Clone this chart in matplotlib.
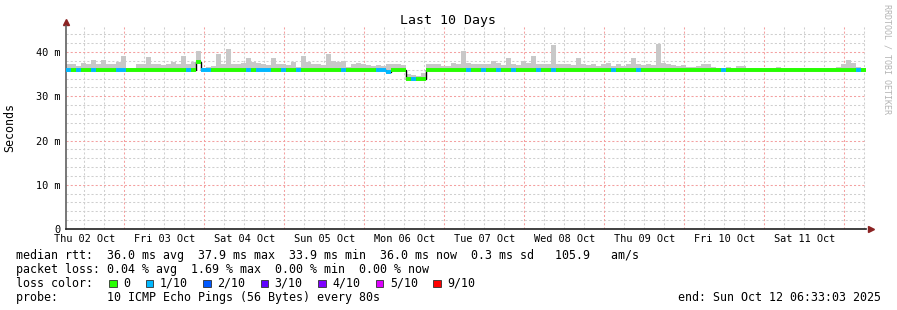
import numpy as np
import matplotlib
matplotlib.use('Agg')
import matplotlib.pyplot as plt
import matplotlib.dates as mdates
from matplotlib.ticker import FixedLocator, MultipleLocator
from matplotlib.patches import Rectangle

plt.rcParams['font.family'] = 'DejaVu Sans Mono'

# time range of the graph, 160 bins of 90 minutes
start = np.datetime64('2025-10-02T06:33:03')
end = np.datetime64('2025-10-12T06:33:03')
n_bins = 160

# median rtt per bin (ms)
median = [
    36.0, 36.0, 36.0, 36.0, 36.0, 36.0, 36.0, 36.0, 36.0, 36.0, 36.0, 36.0, 36.0, 36.0, 36.0, 36.0, 36.0, 36.0, 36.0, 36.0,
    36.0, 36.0, 36.0, 36.0, 36.0, 36.0, 37.7, 36.0, 36.0, 36.0, 36.0, 36.0, 36.0, 36.0, 36.0, 36.0, 36.0, 36.0, 36.0, 36.0,
    36.0, 36.0, 36.0, 36.0, 36.0, 36.0, 36.0, 36.0, 36.0, 36.0, 36.0, 36.0, 36.0, 36.0, 36.0, 36.0, 36.0, 36.0, 36.0, 36.0,
    36.0, 36.0, 36.0, 36.0, 35.5, 36.0, 36.0, 36.0, 34.0, 34.0, 34.0, 34.0, 36.0, 36.0, 36.0, 36.0, 36.0, 36.0, 36.0, 36.0,
    36.0, 36.0, 36.0, 36.0, 36.0, 36.0, 36.0, 36.0, 36.0, 36.0, 36.0, 36.0, 36.0, 36.0, 36.0, 36.0, 36.0, 36.0, 36.0, 36.0,
    36.0, 36.0, 36.0, 36.0, 36.0, 36.0, 36.0, 36.0, 36.0, 36.0, 36.0, 36.0, 36.0, 36.0, 36.0, 36.0, 36.0, 36.0, 36.0, 36.0,
    36.0, 36.0, 36.0, 36.0, 36.0, 36.0, 36.0, 36.0, 36.0, 36.0, 36.0, 36.0, 36.0, 36.0, 36.0, 36.0, 36.0, 36.0, 36.0, 36.0,
    36.0, 36.0, 36.0, 36.0, 36.0, 36.0, 36.0, 36.0, 36.0, 36.0, 36.0, 36.0, 36.0, 36.0, 36.0, 36.0, 36.0, 36.0, 36.0, 36.0,
]

# top of the smoke (highest ping) per bin (ms)
smoke_top = [
    37.4, 37.2, 36.8, 37.6, 37.4, 38.2, 37.2, 38.2, 37.3, 37.4, 37.8, 39.1, 36.5, 36.4, 37.2, 37.3, 38.9, 37.3, 37.2, 37.0,
    37.3, 37.8, 37.2, 39.1, 37.4, 37.8, 40.2, 36.4, 36.6, 36.8, 39.5, 37.3, 40.7, 37.2, 37.3, 37.5, 38.6, 37.8, 37.6, 37.2,
    37.0, 38.6, 37.3, 37.2, 37.0, 37.8, 36.6, 39.1, 37.8, 37.4, 37.2, 37.0, 39.5, 37.9, 37.8, 37.9, 36.6, 37.4, 37.5, 37.2,
    37.0, 36.8, 37.0, 36.8, 37.3, 37.3, 37.2, 37.0, 35.0, 34.8, 34.7, 35.2, 37.2, 37.3, 37.2, 36.8, 36.8, 37.5, 37.4, 40.2,
    37.5, 37.3, 37.4, 37.3, 37.4, 37.9, 37.5, 37.0, 38.6, 37.3, 37.0, 37.9, 37.5, 39.1, 37.4, 37.2, 37.3, 41.7, 37.2, 37.3,
    37.2, 37.0, 38.6, 37.3, 37.0, 37.2, 36.8, 37.4, 37.6, 36.9, 37.2, 36.8, 37.3, 38.6, 37.2, 37.0, 37.3, 37.0, 41.8, 37.5,
    37.2, 37.0, 36.8, 37.0, 36.6, 36.6, 36.8, 37.2, 37.2, 36.6, 36.5, 36.5, 36.6, 36.5, 36.8, 36.8, 36.5, 36.4, 36.5, 36.4,
    36.4, 36.5, 36.7, 36.5, 36.4, 36.4, 36.5, 36.4, 36.4, 36.5, 36.4, 36.4, 36.5, 36.4, 36.6, 37.2, 38.2, 37.5, 36.6, 36.4,
]

# lost pings out of 10 per bin
loss = [
    1, 0, 1, 0, 0, 1, 0, 0, 0, 0, 1, 1, 0, 0, 0, 0, 0, 0, 0, 0,
    0, 0, 0, 0, 1, 0, 0, 1, 1, 0, 0, 0, 0, 0, 0, 0, 1, 0, 1, 1,
    1, 0, 0, 1, 0, 0, 1, 0, 0, 0, 0, 0, 0, 0, 0, 1, 0, 0, 0, 0,
    0, 0, 1, 1, 1, 0, 0, 0, 0, 1, 0, 0, 0, 0, 0, 0, 0, 0, 0, 0,
    1, 0, 0, 1, 0, 0, 1, 0, 0, 1, 0, 0, 0, 0, 1, 0, 0, 1, 0, 0,
    0, 0, 0, 0, 0, 0, 0, 0, 0, 1, 0, 0, 0, 0, 1, 0, 0, 0, 0, 0,
    0, 0, 0, 0, 0, 0, 0, 0, 0, 0, 0, 1, 0, 0, 0, 0, 0, 0, 0, 0,
    0, 0, 0, 0, 0, 0, 0, 0, 0, 0, 0, 0, 0, 0, 0, 0, 0, 0, 1, 0,
]

loss_labels = ['0', '1/10', '2/10', '3/10', '4/10', '5/10', '9/10']
loss_values = [0, 1, 2, 3, 4, 5, 9]
loss_colors = ['#26ff00', '#00b8ff', '#0059ff', '#5e00ff', '#7e00ff', '#dd00ff', '#ff0000']
color_of = dict(zip(loss_values, loss_colors))

y_ticks = [0, 10, 20, 30, 40]
y_ticklabels = ['0', '10 m', '20 m', '30 m', '40 m']

stats_lines = [
    'median rtt:  36.0 ms avg  37.9 ms max  33.9 ms min  36.0 ms now  0.3 ms sd   105.9   am/s',
    'packet loss: 0.04 % avg  1.69 % max  0.00 % min  0.00 % now',
    'loss color:',
    'probe:       10 ICMP Echo Pings (56 Bytes) every 80s',
]
end_text = 'end: Sun Oct 12 06:33:03 2025'

W, H = 897, 310
fig = plt.figure(figsize=(W / 100, H / 100), dpi=100)
fig.patch.set_facecolor('white')
ax = fig.add_axes([66 / W, 1 - 229 / H, 800 / W, 203 / H])


def fx(x):
    return x / W


def fy(y):
    return 1 - y / H


step = (end - start) / n_bins
edges = mdates.date2num(start + np.arange(n_bins + 1) * step)
median = np.array(median)
smoke_top = np.array(smoke_top)

# smoke
ax.bar(edges[:-1], smoke_top - median, bottom=median, width=np.diff(edges),
       align='edge', color='#c8c8c8', linewidth=0, zorder=2)
# black step line for the median changes, coloured segments on top
ax.stairs(median, edges, color='black', lw=1.0, baseline=None, zorder=3)
ax.hlines(median, edges[:-1], edges[1:], colors=[color_of[l] for l in loss],
          lw=2.8, zorder=4)

ax.set_xlim(edges[0], edges[-1])
ax.set_ylim(0, 45.9)

# grid
dots = (0, (2, 2))
ax.xaxis.set_major_locator(mdates.HourLocator(byhour=[12]))
ax.xaxis.set_minor_locator(mdates.HourLocator(byhour=[6, 18]))
ax.xaxis.set_major_formatter(mdates.DateFormatter('%a %d %b'))
ax.grid(which='both', axis='x', color='#cfcfcf', ls=dots, lw=0.75, zorder=0)
midnights = np.arange(np.datetime64('2025-10-03'), np.datetime64('2025-10-13'), np.timedelta64(1, 'D'))
for m in mdates.date2num(midnights):
    ax.axvline(m, color='#f4a0a0', ls=dots, lw=0.75, zorder=1)

ax.yaxis.set_major_locator(FixedLocator(y_ticks))
ax.set_yticklabels(y_ticklabels)
ax.yaxis.set_minor_locator(MultipleLocator(2))
ax.grid(which='minor', axis='y', color='#cfcfcf', ls=dots, lw=0.75, zorder=0)
ax.grid(which='major', axis='y', color='#f4a0a0', ls=dots, lw=0.75, zorder=1)
ax.set_axisbelow(True)

ax.tick_params(which='both', length=0)
ax.tick_params(axis='x', labelsize=7.4, pad=3.5)
ax.tick_params(axis='y', labelsize=7.4, pad=4.3)

for s in ['top', 'right']:
    ax.spines[s].set_visible(False)
ax.spines['left'].set_color('#606060')
ax.spines['left'].set_linewidth(1.2)
ax.spines['bottom'].set_color('#202020')
ax.spines['bottom'].set_linewidth(1.2)

# axis arrows
ax.plot([0], [1.018], marker='^', ms=4.5, color='#8b2222', transform=ax.transAxes, clip_on=False)
ax.plot([1.006], [0], marker='>', ms=4.5, color='#8b2222', transform=ax.transAxes, clip_on=False)

# texts
fig.text(fx(448), fy(24), 'Last 10 Days', ha='center', va='baseline', fontsize=9.5)
fig.text(fx(10), fy(127), 'Seconds', rotation=90, ha='center', va='center', fontsize=8.4)
fig.text(fx(887), fy(4), 'RRDTOOL / TOBI OETIKER', rotation=270, ha='center', va='top',
         fontsize=6, color='#b4b4b4')

baselines = [259, 273, 287, 301]
for line, yb in zip(stats_lines, baselines):
    fig.text(fx(16), fy(yb), line, ha='left', va='baseline', fontsize=8.4)
fig.text(fx(881), fy(301), end_text, ha='right', va='baseline', fontsize=8.4)

# loss colour legend
char_w = 7.02
x = 109
for lab, col in zip(loss_labels, loss_colors):
    fig.add_artist(Rectangle((fx(x), fy(287)), 7.5 / W, 7.5 / H, facecolor=col,
                             edgecolor='#303030', lw=0.6, transform=fig.transFigure))
    fig.text(fx(x + 14), fy(287), lab, ha='left', va='baseline', fontsize=8.4)
    x = x + 14 + len(lab) * char_w + 15.5

fig.savefig('out.png', dpi=100)
